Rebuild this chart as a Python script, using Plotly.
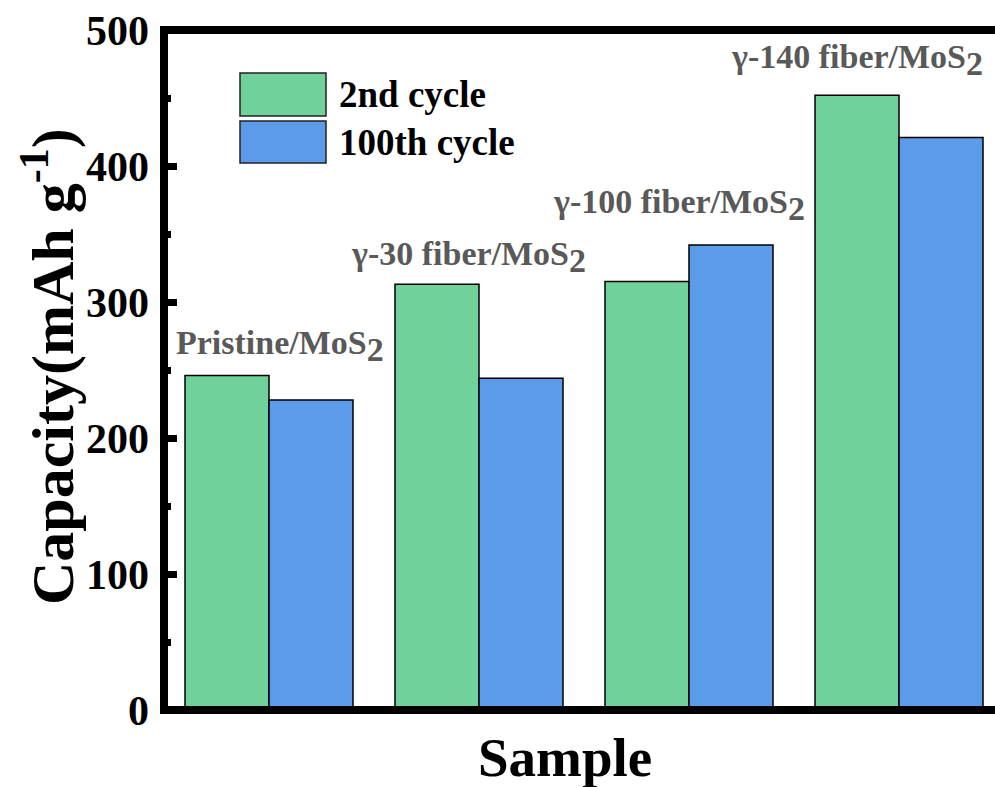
import plotly.graph_objects as go

# ---------------- data ----------------
categories = ["Pristine/MoS2", "γ-30 fiber/MoS2", "γ-100 fiber/MoS2", "γ-140 fiber/MoS2"]
label_texts = [
    "Pristine/MoS<sub><span style='font-size:34px'>2</span></sub>",
    "γ-30 fiber/MoS<sub><span style='font-size:34px'>2</span></sub>",
    "γ-100 fiber/MoS<sub><span style='font-size:34px'>2</span></sub>",
    "γ-140 fiber/MoS<sub><span style='font-size:34px'>2</span></sub>",
]
series_names = ["2nd cycle", "100th cycle"]
cycle2 = [246, 313, 315, 452]
cycle100 = [228, 244, 342, 421]
y_ticks = [0, 100, 200, 300, 400, 500]

# ---------------- style ----------------
W, H = 995, 787
ML, MR, MT, MB = 164, 0, 30, 77
PW, PH = W - ML - MR, H - MT - MB
GREEN = "#70D29A"
BLUE = "#5C9BE9"
FONT = "Liberation Serif"
GRAY = "#595959"

def px(xp):
    return (xp - ML) / PW

def py(yp):
    return (H - MB - yp) / PH

xs = list(range(len(categories)))

fig = go.Figure()
fig.add_trace(go.Bar(x=xs, y=cycle2, name=series_names[0], marker=dict(color=GREEN, line=dict(color="black", width=1.5)), showlegend=False))
fig.add_trace(go.Bar(x=xs, y=cycle100, name=series_names[1], marker=dict(color=BLUE, line=dict(color="black", width=1.5)), showlegend=False))

# category labels above bars (offsets in category units, heights in data units)
label_dx = [0.05, -0.05, -0.05, -0.2]
label_y = [268, 333, 371, 478]
for i, t in enumerate(label_texts):
    fig.add_annotation(x=xs[i] + label_dx[i], y=label_y[i], xref="x", yref="y", text=t, showarrow=False,
                       font=dict(family=FONT, size=34, color=GRAY, weight="bold"),
                       xanchor="center", yanchor="middle")

# manual legend
box_colors = [GREEN, BLUE]
box_tops = [73, 121]
box_bots = [116, 163]
for c, t0, b0, name in zip(box_colors, box_tops, box_bots, series_names):
    fig.add_shape(type="rect", xref="paper", yref="paper", x0=px(240), x1=px(326), y0=py(b0), y1=py(t0),
                  fillcolor=c, line=dict(color="#222222", width=1.5), layer="above")
    fig.add_annotation(xref="paper", yref="paper", x=px(337), y=py((t0 + b0) / 2), text=name, showarrow=False,
                       xanchor="left", yanchor="middle", font=dict(family=FONT, size=37, color="black", weight="bold"))

# axis frame lines (left, bottom, top)
LW = 8
fig.add_shape(type="line", xref="paper", yref="paper", x0=0, x1=0, y0=py(710 + 3), y1=py(30 - 4), line=dict(color="black", width=LW), layer="above")
fig.add_shape(type="line", xref="paper", yref="paper", x0=px(160), x1=1.01, y0=0, y1=0, line=dict(color="black", width=LW), layer="above")
fig.add_shape(type="line", xref="paper", yref="paper", x0=px(160), x1=1.01, y0=1, y1=1, line=dict(color="black", width=LW), layer="above")

# axis titles
fig.add_annotation(xref="paper", yref="paper", x=px(565), y=py(757), text="Sample", showarrow=False,
                   font=dict(family=FONT, size=55, color="black", weight="bold"), xanchor="center", yanchor="middle")
fig.add_annotation(xref="paper", yref="paper", x=px(48), y=py(367), text="Capacity(mAh g<sup>-1</sup>)", showarrow=False,
                   textangle=-90, font=dict(family=FONT, size=60, color="black", weight="bold"), xanchor="center", yanchor="middle")

fig.update_layout(
    width=W, height=H,
    margin=dict(l=ML, r=MR, t=MT, b=MB, pad=0),
    paper_bgcolor="white", plot_bgcolor="white",
    barmode="group", bargap=0.2, bargroupgap=0,
    showlegend=False,
    font=dict(family=FONT, color="black"),
)
fig.update_xaxes(range=[-0.5, 3 + (W - 899) / 210], showticklabels=False, ticks="", showgrid=False, zeroline=False, showline=False)
fig.update_yaxes(range=[0, 500], tickvals=y_ticks, ticks="inside", ticklen=13, tickwidth=7, tickcolor="black",
                 minor=dict(ticks="inside", ticklen=7, tickwidth=7, tickcolor="black", dtick=50, showgrid=False),
                 tickfont=dict(family=FONT, size=42, color="black", weight="bold"), ticklabelstandoff=14,
                 showgrid=False, zeroline=False, showline=False)

fig.write_html("out.html")
